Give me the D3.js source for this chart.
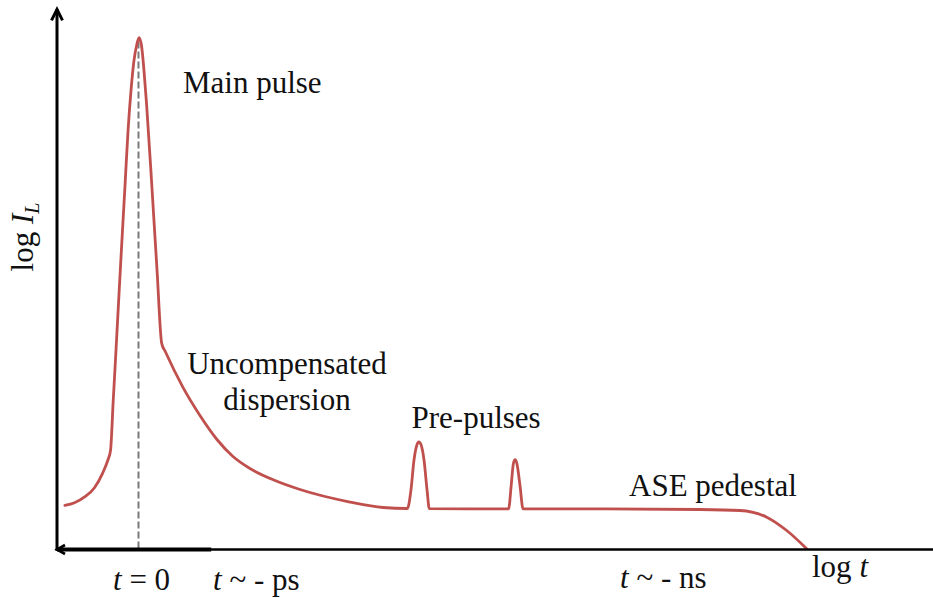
<!DOCTYPE html>
<html>
<head>
<meta charset="utf-8">
<script src="https://cdn.jsdelivr.net/npm/d3@7"></script>
<style>
  html, body { margin: 0; padding: 0; background: #fff; }
  svg { display: block; }
  text { font-family: "Liberation Serif", "Times New Roman", serif; fill: #111; }
</style>
</head>
<body>
<script>
// ---- data (arbitrary units: log t on x, log I_L on y, both 0..100) ----
const logTime = [0.9, 2.0, 3.2, 4.3, 5.2, 5.8, 6.11,
  6.42, 6.67, 7.04, 7.35, 7.75, 8.11, 8.45, 8.79, 9.08, 9.36,
  9.65, 9.93, 10.22, 10.84, 11.42, 11.95,
  12.39, 14.38, 16.32, 18.26, 20.09, 22.03, 24.89, 27.74, 33.45, 37.21, 40.0,
  40.4, 40.75, 41.1, 41.3, 41.55, 41.9, 42.25, 42.5, 47.0,
  51.55, 51.85, 52.1, 52.3, 52.5, 52.85, 53.2,
  62.0, 73.4, 77.97, 81.02, 83.3, 85.55];
const logIntensity = [8.1, 8.6, 9.7, 11.4, 14.0, 16.4, 18.2,
  27.4, 34.7, 45.8, 55.0, 66.5, 77.0, 84.4, 89.9, 92.6, 94.1,
  92.6, 88.05, 82.0, 66.5, 51.3, 37.9,
  36.3, 29.8, 24.63, 20.22, 17.1, 14.89, 12.68, 11.03, 8.73, 7.72, 7.54,
  10.85, 16.4, 19.3, 19.8, 19.3, 16.4, 10.85, 7.5, 7.45,
  7.45, 11.8, 15.8, 16.5, 15.8, 11.8, 7.45,
  7.45, 7.35, 7.17, 5.94, 3.49, 0.18];
const mainPulseTime = 9.36;      // t = 0 marker
const mainPulsePeak = 94.1;
const psSegmentEnd = 17.6;       // darker portion of the time axis
const axisLabels = ["t = 0", "t ~ - ps", "t ~ - ns"];
const regionLabels = ["Main pulse", "Uncompensated", "dispersion", "Pre-pulses", "ASE pedestal"];

// ---- layout ----
const W = 933, H = 598;
const x = d3.scaleLinear().domain([0, 100]).range([57, 933]);
const y = d3.scaleLinear().domain([0, 100]).range([549.5, 5.5]);

const svg = d3.select("body").append("svg").attr("width", W).attr("height", H);

// dashed t=0 line
svg.append("line")
  .attr("x1", x(mainPulseTime) - 0.5).attr("x2", x(mainPulseTime) - 0.5)
  .attr("y1", y(mainPulsePeak) + 4).attr("y2", y(0))
  .attr("stroke", "#7a7a7a").attr("stroke-width", 2)
  .attr("stroke-dasharray", "7,3");

// curve
const pts = logTime.map((t, i) => [t, logIntensity[i]]);
const line = d3.line().x(d => x(d[0])).y(d => y(d[1])).curve(d3.curveMonotoneX);
svg.append("path").datum(pts)
  .attr("d", line)
  .attr("fill", "none")
  .attr("stroke", "#c0504d")
  .attr("stroke-width", 2.8)
  .attr("stroke-linejoin", "round")
  .attr("stroke-linecap", "round");

// axes
const ax = svg.append("g").attr("stroke", "#000").attr("fill", "none").attr("stroke-linecap", "butt");
ax.append("line").attr("x1", x(0)).attr("x2", x(0)).attr("y1", y(0) + 1.5).attr("y2", y(99.3))
  .attr("stroke-width", 3);
ax.append("line").attr("x1", x(0)).attr("x2", W).attr("y1", y(0)).attr("y2", y(0))
  .attr("stroke-width", 2.6);
ax.append("line").attr("x1", x(0)).attr("x2", x(psSegmentEnd)).attr("y1", y(0)).attr("y2", y(0))
  .attr("stroke-width", 4);
// arrowheads
ax.append("path")
  .attr("d", `M${x(0) - 5.5},${y(99.3) + 11} L${x(0)},${y(99.3)} L${x(0) + 5.5},${y(99.3) + 11}`)
  .attr("stroke-width", 3).attr("stroke-linejoin", "miter");
ax.append("path")
  .attr("d", `M${x(0) + 8},${y(0) - 4.5} L${x(0)},${y(0)} L${x(0) + 8},${y(0) + 4.5}`)
  .attr("stroke-width", 2.6).attr("stroke-linejoin", "miter");

// labels
const fs = 31;
function label(txt, px, py, anchor) {
  return svg.append("text").attr("x", px).attr("y", py)
    .attr("font-size", fs).attr("text-anchor", anchor || "start").text(txt);
}
label(regionLabels[0], 183, 93);
label(regionLabels[1], 287, 373.5, "middle");
label(regionLabels[2], 287, 410, "middle");
label(regionLabels[3], 411.5, 428);
label(regionLabels[4], 629, 496);

function tLabel(txt, px, py) {
  const t = svg.append("text").attr("x", px).attr("y", py).attr("font-size", fs);
  t.append("tspan").attr("font-style", "italic").text("t");
  t.append("tspan").text(txt.slice(1));
}
tLabel(axisLabels[0], 113, 590);
tLabel(axisLabels[1], 213, 590);
tLabel(axisLabels[2], 620, 588);

const lt = svg.append("text").attr("x", 812).attr("y", 577).attr("font-size", fs);
lt.append("tspan").text("log ");
lt.append("tspan").attr("font-style", "italic").text("t");

const yl = svg.append("text").attr("transform", "translate(33,237) rotate(-90)")
  .attr("text-anchor", "middle").attr("font-size", fs);
yl.append("tspan").text("log ");
yl.append("tspan").attr("font-style", "italic").text("I");
yl.append("tspan").attr("font-style", "italic").attr("font-size", 20).attr("dy", 6).text("L");
</script>
</body>
</html>
